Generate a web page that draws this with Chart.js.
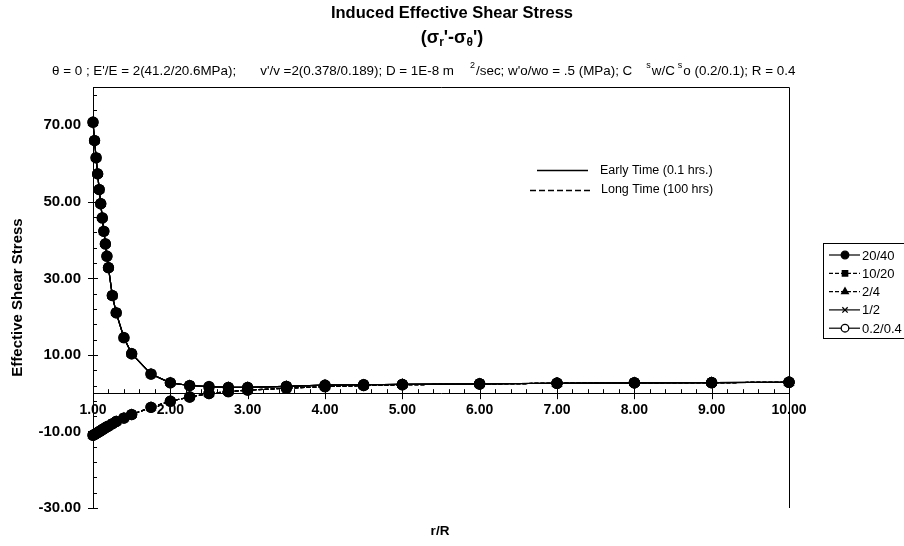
<!DOCTYPE html>
<html>
<head>
<meta charset="utf-8">
<script src="https://cdn.jsdelivr.net/npm/chart.js@4.4.0/dist/chart.umd.min.js"></script>
<style>
html, body { margin: 0; padding: 0; background: #fff; }
</style>
</head>
<body>
<canvas id="chartStress" width="904" height="546"></canvas>
<script>
// r/R positions
var rValues = [1.00, 1.02, 1.04, 1.06, 1.08, 1.10, 1.12, 1.14, 1.16, 1.18, 1.20, 1.25, 1.30, 1.40, 1.50,
               1.75, 2.00, 2.25, 2.50, 2.75, 3.00, 3.50, 4.00, 4.50, 5.00, 6.00, 7.00, 8.00, 9.00, 10.00];
// upper branch (early time)
var earlyStress = [70.8, 66.0, 61.5, 57.3, 53.2, 49.5, 45.8, 42.3, 39.0, 35.8, 32.8, 25.5, 21.0, 14.5, 10.3,
                   5.0, 2.7, 2.0, 1.7, 1.5, 1.5, 1.8, 2.1, 2.2, 2.3, 2.45, 2.6, 2.7, 2.75, 2.85];
// lower branch (long time)
var longStress = [-11.0, -10.8, -10.55, -10.3, -10.05, -9.8, -9.55, -9.3, -9.05, -8.8, -8.6, -8.0, -7.4, -6.5, -5.6,
                  -3.7, -2.1, -1.0, -0.1, 0.4, 0.8, 1.3, 1.7, 2.0, 2.2, 2.4, 2.6, 2.7, 2.75, 2.85];

var seriesNames = ['20/40', '10/20', '2/4', '1/2', '0.2/0.4'];
var seriesMarkers = ['circle', 'rect', 'triangle', 'crossRot', 'circle'];
var seriesFill = ['#000', '#000', '#000', '#000', '#fff'];
var seriesDash = [[], [4, 2], [4, 2], [], []];

var xTickValues = [1, 2, 3, 4, 5, 6, 7, 8, 9, 10];
var yTickValues = [-30, -10, 10, 30, 50, 70];

var FONT = '"Liberation Sans", Arial, sans-serif';

function toPoints(vals) {
    var pts = [];
    for (var i = 0; i < rValues.length; i++) {
        pts.push({ x: rValues[i], y: vals[i] });
    }
    return pts;
}

var datasets = [];
for (var i = 0; i < seriesNames.length; i++) {
    datasets.push({
        label: seriesNames[i],
        data: toPoints(earlyStress),
        borderColor: '#000',
        borderWidth: 1.2,
        backgroundColor: seriesFill[i],
        pointStyle: seriesMarkers[i],
        pointRadius: 5,
        pointBorderColor: '#000',
        pointBorderWidth: 1.3,
        clip: false
    });
}
for (var i = 0; i < seriesNames.length; i++) {
    datasets.push({
        label: seriesNames[i] + ' long',
        data: toPoints(longStress),
        borderColor: '#000',
        borderWidth: 1.2,
        borderDash: [4, 2],
        backgroundColor: seriesFill[i],
        pointStyle: seriesMarkers[i],
        pointRadius: 5,
        pointBorderColor: '#000',
        pointBorderWidth: 1.3,
        clip: false
    });
}

function drawMarker(ctx, style, x, y, r, fill) {
    ctx.save();
    ctx.fillStyle = fill;
    ctx.strokeStyle = '#000';
    ctx.lineWidth = 1.3;
    Chart.helpers.drawPoint(ctx, { pointStyle: style, radius: r, rotation: 0, borderWidth: 1.3 }, x, y);
    ctx.restore();
}

var decorPlugin = {
    id: 'decor',
    afterDraw: function (chart) {
        var ctx = chart.ctx;
        var area = chart.chartArea;
        var xs = chart.scales.x, ys = chart.scales.y;
        var y0 = ys.getPixelForValue(0);
        ctx.save();
        ctx.fillStyle = '#000';
        ctx.strokeStyle = '#000';

        // titles
        ctx.textAlign = 'center';
        ctx.textBaseline = 'middle';
        ctx.font = 'bold 16.5px ' + FONT;
        ctx.fillText('Induced Effective Shear Stress', 452, 13);
        // (σr'-σθ')
        var parts = [['(σ', 0], ['r', 1], ["'-σ", 0], ['θ', 1], ["')", 0]];
        var w = 0;
        parts.forEach(function (p) {
            ctx.font = (p[1] ? 'bold 12px ' : 'bold 18px ') + FONT;
            w += ctx.measureText(p[0]).width;
        });
        var px = 452 - w / 2;
        ctx.textAlign = 'left';
        parts.forEach(function (p) {
            ctx.font = (p[1] ? 'bold 12px ' : 'bold 18px ') + FONT;
            ctx.fillText(p[0], px, p[1] ? 43 : 38);
            px += ctx.measureText(p[0]).width;
        });

        // parameter line: [text, superscript?, gap before]
        var line = [
            ["θ = 0 ; E'/E = 2(41.2/20.6MPa);", 0, 0],
            ["v'/v =2(0.378/0.189); D = 1E-8 m", 0, 24],
            ['2', 1, 16],
            ["/sec; w'o/wo = .5 (MPa); C", 0, 1],
            ['s', 1, 14],
            ['w/C', 0, 1],
            ['s', 1, 3],
            ['o (0.2/0.1); R = 0.4', 0, 1]
        ];
        var lx = 52;
        line.forEach(function (s) {
            ctx.font = (s[1] ? '9px ' : '13.4px ') + FONT;
            lx += s[2];
            ctx.fillText(s[0], lx, s[1] ? 66 : 71);
            lx += ctx.measureText(s[0]).width;
        });

        // frame: top and right
        ctx.lineWidth = 1;
        ctx.beginPath();
        ctx.moveTo(area.left, area.top + 0.5);
        ctx.lineTo(area.right + 0.5, area.top + 0.5);
        ctx.lineTo(area.right + 0.5, area.bottom);
        ctx.stroke();

        // y ticks
        ctx.beginPath();
        var ax = area.left;
        for (var v = -30; v <= 78; v += 4) {
            var py = Math.round(ys.getPixelForValue(v)) + 0.5;
            if ((v + 30) % 20 === 0) {
                ctx.moveTo(ax - 5, py); ctx.lineTo(ax + 5, py);
            } else {
                ctx.moveTo(ax, py); ctx.lineTo(ax + 4, py);
            }
        }
        // x ticks
        for (var k = 0; k <= 45; k++) {
            var xv = 1 + k * 0.2;
            var pxx = Math.round(xs.getPixelForValue(xv)) + 0.5;
            if (k % 5 === 0) {
                ctx.moveTo(pxx, y0 - 5); ctx.lineTo(pxx, y0 + 6);
            } else {
                ctx.moveTo(pxx, y0 - 4); ctx.lineTo(pxx, y0);
            }
        }
        ctx.stroke();

        // inner legend (line types)
        ctx.lineWidth = 1.3;
        ctx.beginPath();
        ctx.moveTo(537, 170.5); ctx.lineTo(588, 170.5);
        ctx.stroke();
        ctx.setLineDash([6, 3]);
        ctx.beginPath();
        ctx.moveTo(530, 190.5); ctx.lineTo(590, 190.5);
        ctx.stroke();
        ctx.setLineDash([]);
        ctx.font = '12.5px ' + FONT;
        ctx.textAlign = 'left';
        ctx.fillText('Early Time (0.1 hrs.)', 600, 171);
        ctx.fillText('Long Time (100 hrs)', 601, 190);

        // series legend
        ctx.lineWidth = 1;
        ctx.strokeRect(823.5, 243.5, 100, 95);
        for (var i = 0; i < seriesNames.length; i++) {
            var ly = 255 + i * 18.3;
            ctx.lineWidth = 1.2;
            ctx.setLineDash(seriesDash[i]);
            ctx.beginPath();
            ctx.moveTo(829, ly); ctx.lineTo(860, ly);
            ctx.stroke();
            ctx.setLineDash([]);
            drawMarker(ctx, seriesMarkers[i], 845, ly, 3.8, seriesFill[i]);
            ctx.fillStyle = '#000';
            ctx.font = '13px ' + FONT;
            ctx.fillText(seriesNames[i], 862, ly + 1);
        }

        // x axis title
        ctx.font = 'bold 13.5px ' + FONT;
        ctx.textAlign = 'center';
        ctx.fillText('r/R', 440, 531);
        ctx.restore();
    }
};

new Chart(document.getElementById('chartStress'), {
    type: 'line',
    data: { datasets: datasets },
    options: {
        responsive: false,
        animation: false,
        devicePixelRatio: 1,
        layout: { padding: { top: 87, right: 115, bottom: 38, left: 0 } },
        plugins: {
            legend: { display: false },
            tooltip: { enabled: false }
        },
        elements: { line: { tension: 0 } },
        scales: {
            x: {
                type: 'linear',
                min: 1,
                max: 10,
                position: { y: 0 },
                afterBuildTicks: function (s) {
                    s.ticks = xTickValues.map(function (v) { return { value: v }; });
                },
                grid: { display: false },
                border: { display: true, color: '#000', width: 1 },
                ticks: {
                    color: '#000',
                    font: { family: FONT, size: 14, weight: 'bold' },
                    padding: 1,
                    maxRotation: 0,
                    autoSkip: false,
                    callback: function (v) { return Number(v).toFixed(2); }
                }
            },
            y: {
                type: 'linear',
                min: -30,
                max: 80,
                afterBuildTicks: function (s) {
                    s.ticks = yTickValues.map(function (v) { return { value: v }; });
                },
                afterFit: function (s) { s.width = 93; },
                grid: { display: false },
                border: { display: true, color: '#000', width: 1 },
                title: {
                    display: true,
                    text: 'Effective Shear Stress',
                    color: '#000',
                    font: { family: FONT, size: 15, weight: 'bold' },
                    padding: { top: 9, bottom: 0 }
                },
                ticks: {
                    color: '#000',
                    font: { family: FONT, size: 15, weight: 'bold' },
                    padding: 4,
                    callback: function (v) { return Number(v).toFixed(2); }
                }
            }
        }
    },
    plugins: [decorPlugin]
});
</script>
</body>
</html>
